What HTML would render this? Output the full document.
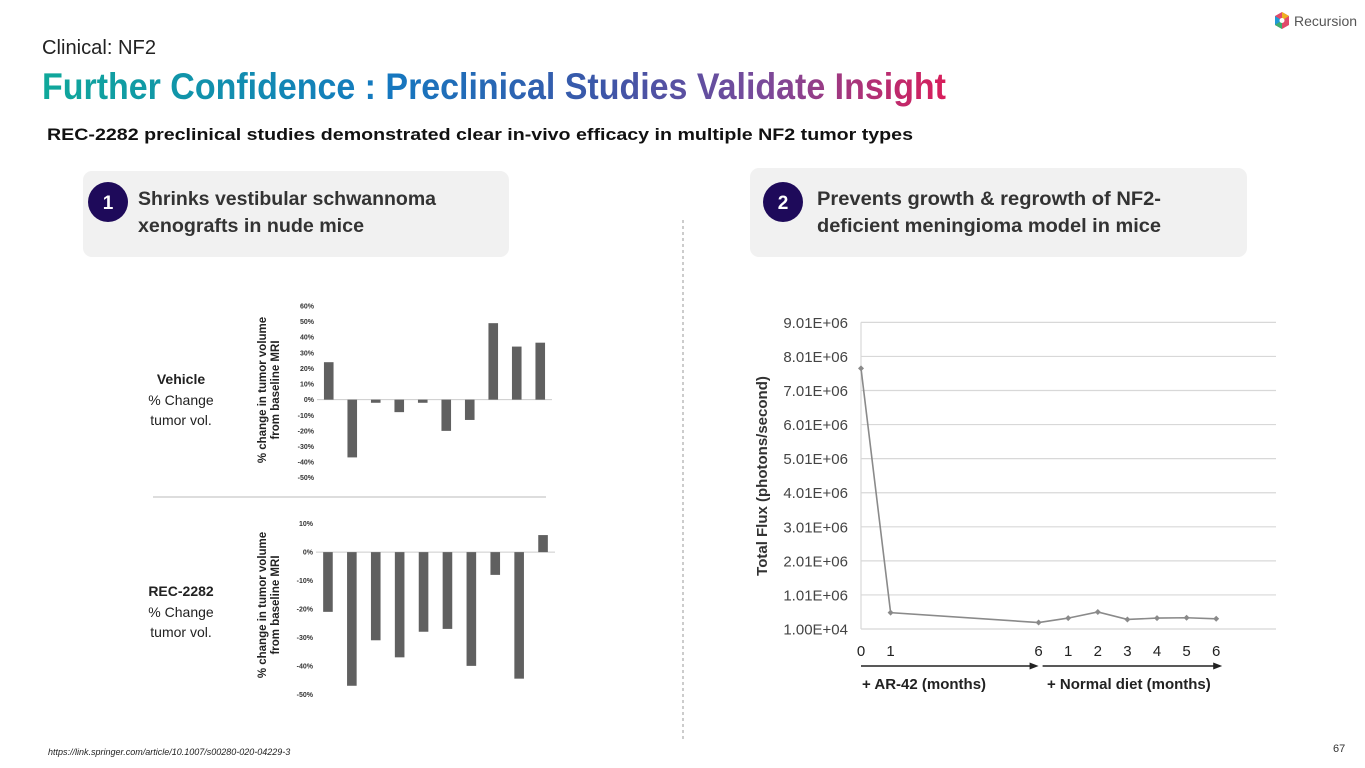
<!DOCTYPE html>
<html><head><meta charset="utf-8">
<style>
html,body{margin:0;padding:0;background:#fff;}
svg{display:block;font-family:"Liberation Sans",sans-serif;}
</style></head>
<body>
<svg id="slide" width="1365" height="768" viewBox="0 0 1365 768">
<defs>
<linearGradient id="tg" x1="42" x2="946" y1="0" y2="0" gradientUnits="userSpaceOnUse">
<stop offset="0" stop-color="#0fa89a"/><stop offset="0.38" stop-color="#1478c0"/><stop offset="0.62" stop-color="#3c56a8"/><stop offset="0.8" stop-color="#7a4a9a"/><stop offset="1" stop-color="#d81e5b"/>
</linearGradient>
</defs>
<g>
<polygon points="1282,12 1289,16 1289,25 1282,29 1275,25 1275,16" fill="#e04a6a"/>
<polygon points="1282,12 1289,16 1282,20.5" fill="#f0b020"/>
<polygon points="1275,16 1282,20.5 1275,25" fill="#1e9ad6"/>
<polygon points="1282,29 1275,25 1282,20.5" fill="#3ab070"/>
<circle cx="1282" cy="20.5" r="2.5" fill="#fff"/>
<text x="1294" y="26" font-size="14" fill="#555">Recursion</text>
</g>
<text x="42" y="54" font-size="20" fill="#222" textLength="114" lengthAdjust="spacingAndGlyphs">Clinical: NF2</text>
<text x="42" y="99" font-size="37" font-weight="bold" fill="url(#tg)" textLength="904" lengthAdjust="spacingAndGlyphs">Further Confidence : Preclinical Studies Validate Insight</text>
<text x="47" y="140" font-size="17" font-weight="bold" fill="#111" textLength="866" lengthAdjust="spacingAndGlyphs">REC-2282 preclinical studies demonstrated clear in-vivo efficacy in multiple NF2 tumor types</text>

<g>
<rect x="83" y="171" width="426" height="86" rx="9" fill="#f1f1f1"/>
<circle cx="108" cy="202" r="20" fill="#1e0a5a"/>
<text x="108" y="209" font-size="19" font-weight="bold" fill="#fff" text-anchor="middle">1</text>
<text x="138" y="205" font-size="19" font-weight="bold" fill="#333" textLength="298" lengthAdjust="spacingAndGlyphs">Shrinks vestibular schwannoma</text>
<text x="138" y="232" font-size="19" font-weight="bold" fill="#333" textLength="226" lengthAdjust="spacingAndGlyphs">xenografts in nude mice</text>
</g>
<g>
<rect x="750" y="168" width="497" height="89" rx="9" fill="#f1f1f1"/>
<circle cx="783" cy="202" r="20" fill="#1e0a5a"/>
<text x="783" y="209" font-size="19" font-weight="bold" fill="#fff" text-anchor="middle">2</text>
<text x="817" y="205" font-size="19" font-weight="bold" fill="#333" textLength="344" lengthAdjust="spacingAndGlyphs">Prevents growth &amp; regrowth of NF2-</text>
<text x="817" y="232" font-size="19" font-weight="bold" fill="#333" textLength="344" lengthAdjust="spacingAndGlyphs">deficient meningioma model in mice</text>
</g>

<line x1="683" y1="220" x2="683" y2="742" stroke="#999" stroke-dasharray="3,3"/>
<line x1="153" y1="497" x2="546" y2="497" stroke="#bbb"/>

<g font-size="14" fill="#222" text-anchor="middle">
<text x="181" y="384" font-weight="bold">Vehicle</text>
<text x="181" y="405">% Change</text>
<text x="181" y="425">tumor vol.</text>
</g>
<g font-size="14" fill="#222" text-anchor="middle">
<text x="181" y="596" font-weight="bold">REC-2282</text>
<text x="181" y="617">% Change</text>
<text x="181" y="637">tumor vol.</text>
</g>

<g id="barTop"></g>
<g id="barBot"></g>
<g id="lineChart"></g>

<text x="48" y="755" font-size="9" font-style="italic" fill="#222">https://link.springer.com/article/10.1007/s00280-020-04229-3</text>
<text x="1333" y="752" font-size="11" fill="#333">67</text>
</svg>
<script>
const NS='http://www.w3.org/2000/svg';
const vehicleValues=[24,-37,-2,-8,-2,-20,-13,49,34,36.5];
const vehicleTicks=[60,50,40,30,20,10,0,-10,-20,-30,-40,-50];
const recValues=[-21,-47,-31,-37,-28,-27,-40,-8,-44.5,6];
const recTicks=[10,0,-10,-20,-30,-40,-50];
const fluxCategories=['0','1','6','1','2','3','4','5','6'];
const fluxMonths=[0,1,6,7,8,9,10,11,12];
const fluxValues=[7.66e6,0.49e6,0.2e6,0.33e6,0.51e6,0.29e6,0.33e6,0.34e6,0.31e6];
const fluxTicks=['1.00E+04','1.01E+06','2.01E+06','3.01E+06','4.01E+06','5.01E+06','6.01E+06','7.01E+06','8.01E+06','9.01E+06'];

function mk(tag,attrs,parent,txt){const e=document.createElementNS(NS,tag);for(const k in attrs)e.setAttribute(k,attrs[k]);if(txt!==undefined)e.textContent=txt;parent.appendChild(e);return e;}

function barChart(g,vals,ticks,cfg){
  const y=v=>cfg.y0-(v-cfg.min)/(cfg.max-cfg.min)*(cfg.y0-cfg.y1);
  const step=(cfg.x1-cfg.x0)/vals.length;
  const x=i=>cfg.x0+step*(i+0.5);
  mk('line',{x1:cfg.x0,x2:cfg.x1,y1:y(0),y2:y(0),stroke:'#ccc','stroke-width':1},g);
  ticks.forEach(t=>{const e=mk('text',{x:cfg.x0-3,y:y(t)+2.5,'font-size':7,'font-weight':'bold',fill:'#333','text-anchor':'end'},g,t+'%');
    
    });
  vals.forEach((v,i)=>{const r=mk('rect',{x:x(i)-4.8,width:9.6,y:Math.min(y(v),y(0)),height:Math.abs(y(v)-y(0)),fill:'#606060'},g);
    
    });
  const t=mk('text',{transform:`translate(${cfg.tx},${cfg.ty}) rotate(-90)`,'font-size':11.5,'font-weight':'bold',fill:'#222','text-anchor':'middle'},g);
  
  
  mk('tspan',{x:0,dy:0},t,'% change in tumor volume');
  mk('tspan',{x:0,dy:13},t,'from baseline MRI');
}
barChart(document.getElementById('barTop'),vehicleValues,vehicleTicks,{x0:317,x1:552,y0:477.7,y1:306,min:-50,max:60,tx:266,ty:390});
barChart(document.getElementById('barBot'),recValues,recTicks,{x0:316,x1:555,y0:694.3,y1:523.7,min:-50,max:10,tx:266,ty:605});

(function(){
  const g=document.getElementById('lineChart');
  const X0=861,PX=29.6,Y0=629,PY=34.07;
  const x=m=>X0+m*PX;
  const y=v=>Y0-(v-1e4)/1e6*PY;
  fluxTicks.forEach((t,i)=>{const yy=Y0-i*PY;
    const l=mk('line',{x1:x(0),x2:1276,y1:yy,y2:yy,stroke:'#d8d8d8','stroke-width':1.2},g);
    
    
    const e=mk('text',{x:848,y:yy+5.5,'font-size':15,fill:'#444','text-anchor':'end'},g,t);
    
    });
  mk('line',{x1:x(0),x2:x(0),y1:Y0-9*PY,y2:Y0,stroke:'#d8d8d8','stroke-width':1.2},g);
  const pts=fluxMonths.map((m,i)=>x(m)+','+y(fluxValues[i])).join(' ');
  const pl=mk('polyline',{points:pts,fill:'none',stroke:'#8a8a8a','stroke-width':1.6},g);
  
  
  fluxMonths.forEach((m,i)=>{const p=mk('path',{d:`M${x(m)-3},${y(fluxValues[i])}L${x(m)},${y(fluxValues[i])-3}L${x(m)+3},${y(fluxValues[i])}L${x(m)},${y(fluxValues[i])+3}Z`,fill:'#8a8a8a'},g);
    
    
    const t=mk('text',{x:x(m),y:656,'font-size':15,fill:'#222','text-anchor':'middle'},g,fluxCategories[i]);
    
    });
  mk('line',{x1:x(0),x2:x(6)-3,y1:666,y2:666,stroke:'#222','stroke-width':1.5},g);
  mk('path',{d:`M${x(6)},666 l-9,-3.5 v7z`,fill:'#222'},g);
  mk('line',{x1:x(6)+4,x2:x(12)+3,y1:666,y2:666,stroke:'#222','stroke-width':1.5},g);
  mk('path',{d:`M${x(12)+6},666 l-9,-3.5 v7z`,fill:'#222'},g);
  const a=mk('text',{x:862,y:689,'font-size':15,'font-weight':'bold',fill:'#222'},g,'+ AR-42 (months)');
  
  
  const b=mk('text',{x:1047,y:689,'font-size':15,'font-weight':'bold',fill:'#222'},g,'+ Normal diet (months)');
  
  
  const yt=mk('text',{transform:'translate(767,476) rotate(-90)','font-size':15,'font-weight':'bold',fill:'#333','text-anchor':'middle'},g,'Total Flux (photons/second)');
  
  
})();
</script>
</body></html>
